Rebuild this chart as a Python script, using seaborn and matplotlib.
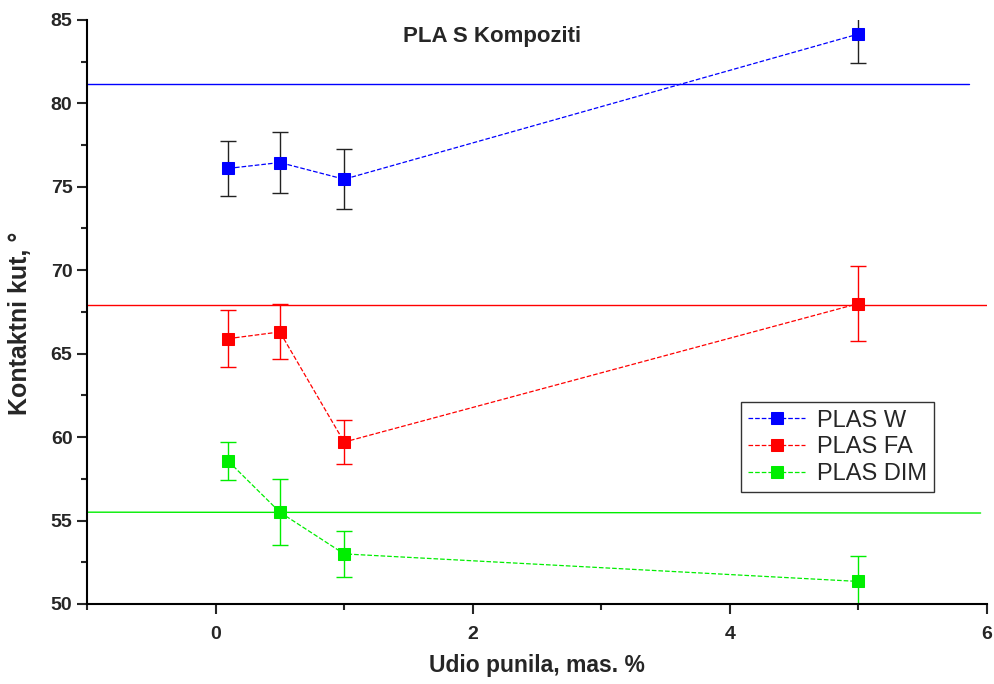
import seaborn as sns
import pandas as pd
import numpy as np
import matplotlib
matplotlib.use("Agg")
import matplotlib.pyplot as plt
from matplotlib.ticker import MultipleLocator

# udio punila (mas. %)
x_vals = [0.1, 0.5, 1.0, 5.0]

# kontaktni kut i standardna devijacija
w_mean = [76.1, 76.45, 75.45, 84.15]
w_err = [1.65, 1.8, 1.8, 1.75]
fa_mean = [65.9, 66.3, 59.7, 68.0]
fa_err = [1.7, 1.65, 1.3, 2.25]
dim_mean = [58.55, 55.5, 53.0, 51.35]
dim_err = [1.15, 1.97, 1.37, 1.5]

labels = ["PLAS W", "PLAS FA", "PLAS DIM"]
colors = ["#0000ff", "#ff0000", "#00ee00"]
err_colors = ["#222222", "#ff0000", "#00ee00"]

# referentne vrijednosti (cisti PLA), pocetak i kraj linije
ref_x = [[-1.0, 5.86], [-1.0, 6.0], [-1.0, 5.95]]
ref_y = [[81.15, 81.15], [67.9, 67.9], [55.5, 55.45]]

df = pd.DataFrame({
    "x": x_vals * 3,
    "y": w_mean + fa_mean + dim_mean,
    "err": w_err + fa_err + dim_err,
    "serija": sum([[l] * len(x_vals) for l in labels], []),
})

sns.set_style("ticks")
plt.rcParams["font.family"] = ["Liberation Sans", "DejaVu Sans"]

fig = plt.figure(figsize=(9.95, 6.84), dpi=100)
ax = fig.add_axes([0.0874, 0.117, 0.9046, 0.854])

for i, lab in enumerate(labels):
    sub = df[df["serija"] == lab]
    ax.plot(ref_x[i], ref_y[i], color=colors[i], linewidth=1, zorder=1)
    ax.errorbar(sub["x"], sub["y"], yerr=sub["err"], fmt="none", ecolor=err_colors[i],
                elinewidth=1, capsize=6, capthick=1, zorder=2)
    sns.lineplot(data=sub, x="x", y="y", color=colors[i], marker="s", markersize=8.5,
                 markeredgecolor=colors[i], linestyle="--", linewidth=0.9,
                 label=lab, ax=ax, zorder=3)

ax.set_xlim(-1, 6)
ax.set_ylim(50, 85)
ax.xaxis.set_major_locator(MultipleLocator(2))
ax.xaxis.set_minor_locator(MultipleLocator(1))
ax.yaxis.set_major_locator(MultipleLocator(5))
ax.yaxis.set_minor_locator(MultipleLocator(2.5))
ax.tick_params(which="major", direction="out", length=7, width=1.5)
ax.tick_params(axis="x", which="major", pad=9)
ax.tick_params(which="minor", direction="out", length=4, width=1.5)
for sp in ["top", "right"]:
    ax.spines[sp].set_visible(False)
for sp in ["left", "bottom"]:
    ax.spines[sp].set_linewidth(1.5)
    ax.spines[sp].set_color("black")

for t in ax.get_yticklabels() + ax.get_xticklabels():
    t.set_fontweight("bold")
    t.set_fontsize(14)

ax.set_xlabel("Udio punila, mas. %", fontsize=16.5, fontweight="bold", labelpad=8)
ax.set_ylabel("Kontaktni kut, °", fontsize=18, fontweight="bold")
ax.yaxis.set_label_coords(-0.061, 0.48)
ax.text(0.45, 0.99, "PLA S Kompoziti", transform=ax.transAxes, ha="center", va="top",
        fontsize=16, fontweight="bold")

leg = ax.legend(loc="upper left", bbox_to_anchor=(0.727, 0.345), fontsize=17,
                frameon=True, fancybox=False, borderpad=0.3, handlelength=2.4,
                labelspacing=0.2, handletextpad=0.5, borderaxespad=0)
leg.get_frame().set_edgecolor("black")
leg.get_frame().set_linewidth(1)

fig.savefig("out.png", dpi=100)
